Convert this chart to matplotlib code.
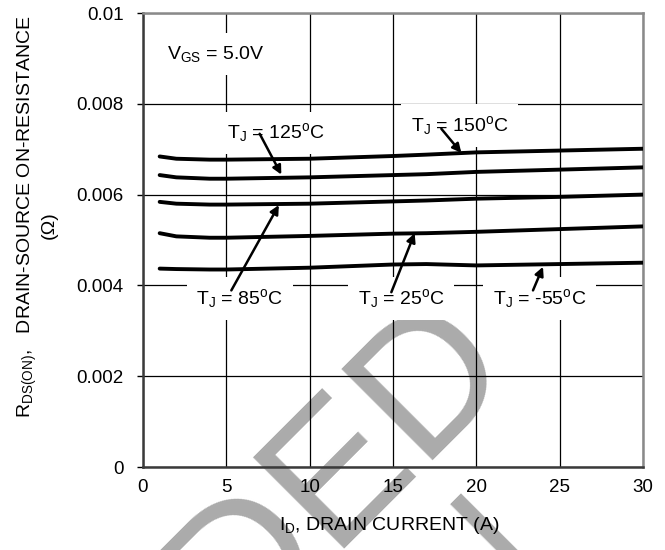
import matplotlib
matplotlib.use("Agg")
import matplotlib.pyplot as plt

plt.rcParams['font.family'] = ['Liberation Sans', 'DejaVu Sans']
plt.rcParams['mathtext.fontset'] = 'custom'
plt.rcParams['mathtext.rm'] = 'Liberation Sans'
plt.rcParams['mathtext.it'] = 'Liberation Sans:italic'
plt.rcParams['mathtext.bf'] = 'Liberation Sans:bold'

# ---- data ----
drain_current = [1, 2, 4, 5, 10, 15, 17, 20, 25, 30]
r_150 = [0.00684, 0.00679, 0.00677, 0.00677, 0.00679, 0.00685, 0.00688, 0.00693, 0.00697, 0.00701]
r_125 = [0.00643, 0.00638, 0.00635, 0.00635, 0.00638, 0.00643, 0.00645, 0.00650, 0.00655, 0.00660]
r_85 = [0.00584, 0.00580, 0.00578, 0.00578, 0.00580, 0.00585, 0.00587, 0.00591, 0.00595, 0.00600]
r_25 = [0.00515, 0.00508, 0.00505, 0.00505, 0.00509, 0.00514, 0.00515, 0.00518, 0.00524, 0.00530]
r_m55 = [0.00437, 0.00436, 0.00435, 0.00435, 0.00439, 0.00446, 0.00447, 0.00444, 0.00447, 0.00450]

x_ticks = [0, 5, 10, 15, 20, 25, 30]
y_ticks = [0, 0.002, 0.004, 0.006, 0.008, 0.01]
y_tick_labels = ["0", "0.002", "0.004", "0.006", "0.008", "0.01"]

labels = [r"T$_\mathrm{J}$ = 125$^\mathrm{o}$C", r"T$_\mathrm{J}$ = 150$^\mathrm{o}$C",
          r"T$_\mathrm{J}$ = 85$^\mathrm{o}$C", r"T$_\mathrm{J}$ = 25$^\mathrm{o}$C",
          r"T$_\mathrm{J}$ = -55$^\mathrm{o}$C"]
label_xy = [(7.98, 0.00736), (19.0, 0.00752), (5.8, 0.00371), (15.5, 0.00371), (23.8, 0.00371)]
arrow_from = [(7.0, 0.00734), (17.9, 0.00745), (5.3, 0.00389), (14.9, 0.00385), (23.4, 0.00389)]
arrow_to = [(8.3, 0.00644), (19.1, 0.00692), (8.15, 0.00577), (16.3, 0.00515), (24.0, 0.00441)]

fig = plt.figure(figsize=(6.65, 5.5), dpi=100)
ax = fig.add_axes([143 / 665, 1 - 467 / 550, 500 / 665, 454 / 550])
ax.patch.set_facecolor('white')

# watermark
wm_kw = dict(rotation=45, rotation_mode='anchor', ha='right', va='baseline',
             fontsize=135, color='#ababab', transform=fig.transFigure,
             clip_on=False, zorder=0.2, family='Liberation Sans')
ax.text(514 / 665, 1 - 364 / 550, "RECOMMENDED", **wm_kw)
ax.text(564 / 665, 1 - 574 / 550, "FOR NEW DESIGN", **wm_kw)

for series in (r_150, r_125, r_85, r_25, r_m55):
    ax.plot(drain_current, series, color='black', lw=2.8, zorder=4,
            solid_capstyle='round')

ax.set_xlim(0, 30)
ax.set_ylim(0, 0.01)
ax.set_xticks(x_ticks)
ax.set_yticks(y_ticks)
ax.set_yticklabels(y_tick_labels)
ax.grid(True, color='black', lw=0.9, zorder=1.5)
ax.tick_params(axis='x', length=0, pad=9, labelsize=13.5)
ax.tick_params(axis='y', length=4, width=1, direction='out', pad=10, labelsize=13.5)

for side in ('left', 'bottom'):
    ax.spines[side].set_color('#3a3a3a')
    ax.spines[side].set_linewidth(1.8)
for side in ('top', 'right'):
    ax.spines[side].set_color('#8a8a8a')
    ax.spines[side].set_linewidth(1.8)

ax.text(4.35, 0.00909, r"V$_\mathrm{GS}$ = 5.0V", ha='center', va='center', fontsize=14,
        bbox=dict(facecolor='white', edgecolor='none', pad=8), zorder=3)

for lab, (tx, ty), p0, p1 in zip(labels, label_xy, arrow_from, arrow_to):
    ax.text(tx, ty, lab, ha='center', va='center', fontsize=14,
            bbox=dict(facecolor='white', edgecolor='none', pad=7), zorder=3)
    ax.annotate("", xy=p1, xytext=p0,
                arrowprops=dict(arrowstyle='-|>', color='black', lw=1.8,
                                mutation_scale=13, shrinkA=0, shrinkB=0),
                zorder=5)

fig.text(389 / 665, 1 - 525 / 550, r"I$_\mathrm{D}$, DRAIN CURRENT (A)",
         ha='center', va='center', fontsize=14)
fig.text(27 / 665, 1 - 217 / 550, r"R$_\mathrm{DS(ON)}$,   DRAIN-SOURCE ON-RESISTANCE",
         ha='center', va='center', rotation=90, fontsize=14)
fig.text(49 / 665, 1 - 225 / 550, "(Ω)", ha='center', va='center', rotation=90, fontsize=14)

fig.savefig("out.png", dpi=100, facecolor='white')
